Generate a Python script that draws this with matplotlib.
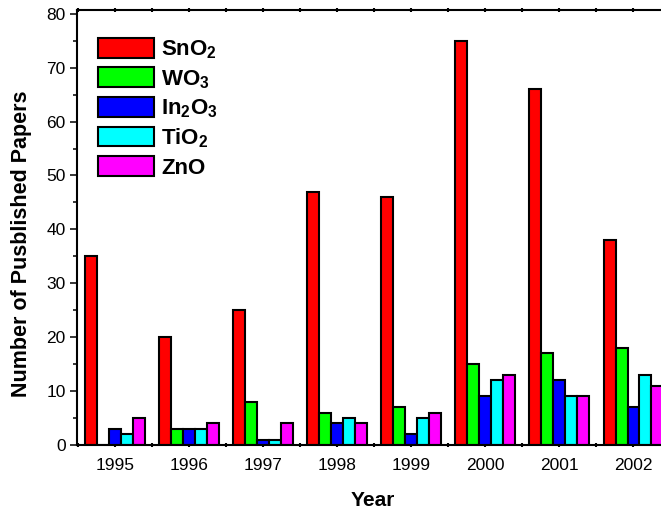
import matplotlib
matplotlib.use("Agg")
import matplotlib.pyplot as plt
import numpy as np

plt.rcParams['font.family'] = ['Liberation Sans', 'DejaVu Sans']
plt.rcParams['mathtext.fontset'] = 'custom'
plt.rcParams['mathtext.rm'] = 'Liberation Sans:bold'
plt.rcParams['mathtext.bf'] = 'Liberation Sans:bold'
plt.rcParams['mathtext.it'] = 'Liberation Sans:bold'

years = [1995, 1996, 1997, 1998, 1999, 2000, 2001, 2002]
series_labels = ['SnO$_\\mathbf{2}$', 'WO$_\\mathbf{3}$', 'In$_\\mathbf{2}$O$_\\mathbf{3}$',
                 'TiO$_\\mathbf{2}$', 'ZnO']
sno2 = [35, 20, 25, 47, 46, 75, 66, 38]
wo3 = [0, 3, 8, 6, 7, 15, 17, 18]
in2o3 = [3, 3, 1, 4, 2, 9, 12, 7]
tio2 = [2, 3, 1, 5, 5, 12, 9, 13]
zno = [5, 4, 4, 4, 6, 13, 9, 11]
colors = ['#FF0000', '#00FF00', '#0000FF', '#00FFFF', '#FF00FF']

W, H = 661, 508
fig = plt.figure(figsize=(W / 100, H / 100), dpi=100)
left_px, right_px = 76.7, 672.0
bottom_px, top_px = 445.0, 10.0
ax = fig.add_axes([left_px / W, (H - bottom_px) / H,
                   (right_px - left_px) / W, (bottom_px - top_px) / H])

x = np.array(years, dtype=float)
w = 0.162
all_series = [sno2, wo3, in2o3, tio2, zno]
for i, (vals, lab, c) in enumerate(zip(all_series, series_labels, colors)):
    ax.bar(x + (i - 2) * w, vals, width=w, color=c, edgecolor='black',
           linewidth=1.5, label=lab, zorder=2)

ax.set_xlim(1994.48, 2002.52)
ax.set_ylim(0, 80.7)

ax.set_xticks(years)
ax.set_xticklabels([str(y) for y in years])
ax.set_xticks(list(x - 0.5)[:1] + list(x + 0.5), minor=True)
ax.tick_params(axis='x', which='both', direction='inout', length=3, width=1.5,
               top=True, bottom=True, labelsize=12.5, pad=8)
ax.set_yticks(range(0, 81, 10))
ax.set_yticks(range(5, 81, 10), minor=True)
ax.tick_params(axis='y', which='major', direction='out', length=5, width=1.1,
               labelsize=12.5, pad=3, right=False)
ax.tick_params(axis='y', which='minor', direction='out', length=3, width=1.1,
               right=False)

for s in ['left', 'top', 'bottom', 'right']:
    ax.spines[s].set_linewidth(1.5)

ax.set_xlabel('Year', fontsize=15, fontweight='bold')
ax.xaxis.set_label_coords((373 - left_px) / (right_px - left_px), -(500 - bottom_px) / (bottom_px - top_px))
ax.xaxis.label.set_va('center')
ax.set_ylabel('Number of Pusblished Papers', fontsize=15.5, fontweight='bold')
ax.yaxis.set_label_coords(-(left_px - 22) / (right_px - left_px), (bottom_px - 243.5) / (bottom_px - top_px))
ax.yaxis.label.set_va('center')

leg = ax.legend(loc='upper left', bbox_to_anchor=(21.3 / (right_px - left_px), 1 - 28 / (bottom_px - top_px)),
                frameon=False, prop={'weight': 'bold', 'size': 16},
                handlelength=2.5, handleheight=1.0, labelspacing=0.28,
                handletextpad=0.35, borderpad=0, borderaxespad=0)

fig.savefig('out.png', dpi=100)
